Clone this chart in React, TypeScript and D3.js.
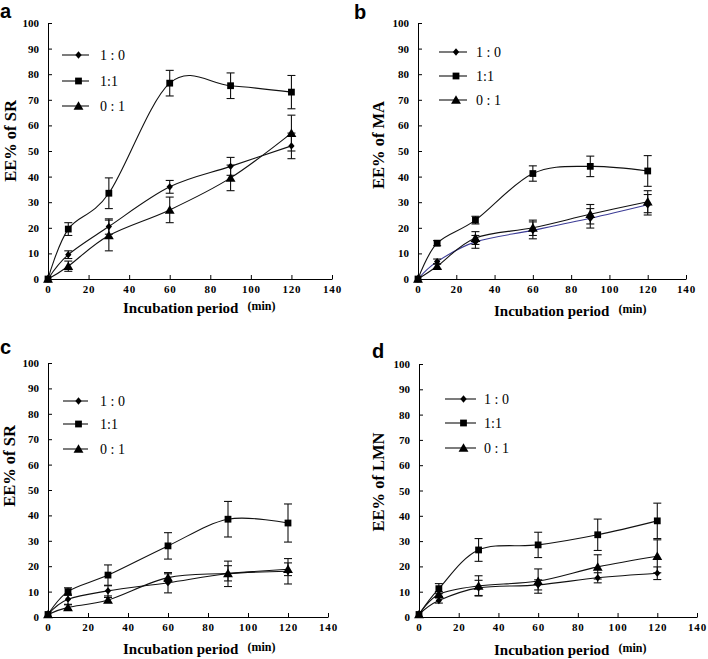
import React, { useEffect, useRef } from "react";
import * as d3 from "d3";

const minutes = [0, 10, 30, 60, 90, 120];
const xTickValues = [0, 20, 40, 60, 80, 100, 120, 140];
const yTickValues = [0, 10, 20, 30, 40, 50, 60, 70, 80, 90, 100];
const ratioLabels = ["1 : 0", "1:1", "0 : 1"];
const panelLetters = ["a", "b", "c", "d"];
const yTitles = ["EE% of SR", "EE% of MA", "EE% of SR", "EE% of LMN"];

// panel a
const a10 = [0, 9.5, 20.5, 36, 44, 52];
const a10Err = [0, 1.5, 3, 2.5, 3.5, 5];
const a11 = [0, 19.5, 33.5, 76.5, 75.5, 73];
const a11Err = [0, 2.5, 6, 5, 5, 6.5];
const a01 = [0, 5, 17, 27, 39.5, 57];
const a01Err = [0, 2, 6, 5, 5, 7];

// panel b
const b10 = [0, 6.8, 14.5, 19, 23.7, 29];
const b10Err = [0, 1, 2.5, 3.3, 3.8, 4];
const b11 = [0, 14, 23, 41.2, 44, 42.2];
const b11Err = [0, 1, 1.5, 3, 4, 6];
const b01 = [0, 5, 16, 20, 25.3, 30.2];
const b01Err = [0, 1, 2.5, 3, 3.8, 4.3];

// panel c
const c10 = [1, 7, 10.3, 13.5, 17, 18];
const c10Err = [0, 2, 2, 4, 5, 5];
const c11 = [1, 10, 16.5, 28, 38.5, 37];
const c11Err = [0, 1.5, 4, 5.2, 7, 7.5];
const c01 = [1, 3.8, 6.7, 15.5, 17.2, 18.8];
const c01Err = [0, 1, 1, 1.5, 3, 2.5];

// panel d
const d10 = [1, 6.5, 11.5, 12.7, 15.5, 17.3];
const d10Err = [0, 1, 3, 2, 2, 2.5];
const d11 = [1, 11.2, 26.5, 28.5, 32.5, 38];
const d11Err = [0, 2, 4.5, 5, 6.2, 7];
const d01 = [1, 9, 12.3, 14.2, 19.8, 24];
const d01Err = [0, 1, 4, 4.8, 4.8, 6.5];

const panelSeries = [
  [[a10, a10Err], [a11, a11Err], [a01, a01Err]],
  [[b10, b10Err], [b11, b11Err], [b01, b01Err]],
  [[c10, c10Err], [c11, c11Err], [c01, c01Err]],
  [[d10, d10Err], [d11, d11Err], [d01, d01Err]],
];

// frame geometry for each panel (pixels)
const frames = [
  { x0: 48, x1: 332, y0: 279, y1: 23, lg: { l0: 14, l1: 41, tx: 52, rows: [32, 58, 83] }, letter: [0, 18], yt: [10, 141], xt: [123, 313] },
  { x0: 418, x1: 686, y0: 279, y1: 23, lg: { l0: 21, l1: 49, tx: 58, rows: [29, 53, 77] }, letter: [354, 19], yt: [378, 145], xt: [494, 316] },
  { x0: 48, x1: 328, y0: 617, y1: 363, lg: { l0: 15, l1: 40, tx: 52, rows: [38, 61, 86] }, letter: [0, 354], yt: [9, 466], xt: [123, 654] },
  { x0: 419, x1: 697, y0: 617, y1: 364, lg: { l0: 26, l1: 57, tx: 65, rows: [35, 59, 84] }, letter: [372, 358], yt: [378, 482], xt: [494, 655] },
];

const serif = "'Liberation Serif', 'Times New Roman', serif";

const diamond = {
  draw(ctx: any, size: number) {
    const w = Math.sqrt(size) / 2;
    const h = w * 1.15;
    ctx.moveTo(0, -h);
    ctx.lineTo(w, 0);
    ctx.lineTo(0, h);
    ctx.lineTo(-w, 0);
    ctx.closePath();
  },
};
const symbolTypes = [diamond, d3.symbolSquare, d3.symbolTriangle];
const symbolSizes = [40, 46, 42];

const App = () => {
  const svgRef = useRef<SVGSVGElement>(null);

  useEffect(() => {
    const svg = d3.select(svgRef.current);
    svg.selectAll("*").remove();

    frames.forEach((f, p) => {
      const x = d3.scaleLinear().domain([0, 140]).range([f.x0, f.x1]);
      const y = d3.scaleLinear().domain([0, 100]).range([f.y0, f.y1]);
      const g = svg.append("g");

      const xAxis = g
        .append("g")
        .attr("transform", `translate(0,${f.y0})`)
        .call(d3.axisBottom(x).tickValues(xTickValues).tickSizeInner(-4).tickSizeOuter(0).tickPadding(6));
      const yAxis = g
        .append("g")
        .attr("transform", `translate(${f.x0},0)`)
        .call(d3.axisLeft(y).tickValues(yTickValues).tickSizeInner(-4).tickSizeOuter(0).tickPadding(9));
      [xAxis, yAxis].forEach((ax) => {
        ax.selectAll("path,line").attr("stroke", "#000");
        ax.selectAll("text")
          .attr("font-family", serif)
          .attr("font-weight", "bold")
          .attr("font-size", 11)
          .attr("fill", "#000");
      });
      xAxis.selectAll("text").attr("letter-spacing", 0.8);

      const line = d3
        .line<number>()
        .x((_, i) => x(minutes[i]))
        .y((v) => y(v))
        .curve(d3.curveCardinal.tension(0));

      panelSeries[p].forEach(([vals], s) => {
        g.append("path")
          .attr("d", line(vals))
          .attr("fill", "none")
          .attr("stroke", p === 1 && s === 0 ? "#3c3c96" : "#111")
          .attr("stroke-width", 1.1);
      });

      panelSeries[p].forEach(([vals, errs]) => {
        const eb = g.append("g").attr("stroke", "#111").attr("stroke-width", 1.1);
        vals.forEach((v, i) => {
          if (!errs[i]) return;
          const cx = x(minutes[i]);
          const top = y(v + errs[i]);
          const bot = y(v - errs[i]);
          eb.append("line").attr("x1", cx).attr("x2", cx).attr("y1", top).attr("y2", bot);
          eb.append("line").attr("x1", cx - 4).attr("x2", cx + 4).attr("y1", top).attr("y2", top);
          eb.append("line").attr("x1", cx - 4).attr("x2", cx + 4).attr("y1", bot).attr("y2", bot);
        });
      });

      panelSeries[p].forEach(([vals], s) => {
        const sym = d3.symbol().type(symbolTypes[s] as any).size(symbolSizes[s]);
        g.selectAll(null)
          .data(vals)
          .enter()
          .append("path")
          .attr("d", sym() as string)
          .attr("transform", (v, i) => `translate(${x(minutes[i])},${y(v) + (s === 2 ? 1 : 0)})`)
          .attr("fill", "#000");
      });

      // legend
      ratioLabels.forEach((lab, s) => {
        const ly = f.y1 + f.lg.rows[s];
        g.append("line")
          .attr("x1", f.x0 + f.lg.l0)
          .attr("x2", f.x0 + f.lg.l1)
          .attr("y1", ly)
          .attr("y2", ly)
          .attr("stroke", "#111")
          .attr("stroke-width", 1.1);
        const sym = d3.symbol().type(symbolTypes[s] as any).size(symbolSizes[s]);
        g.append("path")
          .attr("d", sym() as string)
          .attr("transform", `translate(${f.x0 + (f.lg.l0 + f.lg.l1) / 2 + 3},${ly + (s === 2 ? 1 : 0)})`)
          .attr("fill", "#000");
        g.append("text")
          .attr("x", f.x0 + f.lg.tx)
          .attr("y", ly + 5)
          .attr("font-family", serif)
          .attr("font-size", 14)
          .text(lab);
      });

      g.append("text")
        .attr("x", f.letter[0])
        .attr("y", f.letter[1])
        .attr("font-family", "'Liberation Sans', Arial, sans-serif")
        .attr("font-weight", "bold")
        .attr("font-size", 20)
        .text(panelLetters[p]);

      g.append("text")
        .attr("transform", `translate(${f.yt[0] + 6},${f.yt[1]}) rotate(-90)`)
        .attr("text-anchor", "middle")
        .attr("font-family", serif)
        .attr("font-weight", "bold")
        .attr("font-size", 16.5)
        .text(yTitles[p]);

      const xt = g
        .append("text")
        .attr("x", f.xt[0])
        .attr("y", f.xt[1])
        .attr("font-family", serif)
        .attr("font-weight", "bold")
        .attr("font-size", 15);
      xt.append("tspan").text("Incubation period");
      xt.append("tspan").attr("dx", 9).attr("dy", -3).attr("font-size", 12).text("(min)");
    });
  }, []);

  return (
    <svg
      ref={svgRef}
      width={708}
      height={659}
      style={{ position: "absolute", left: 0, top: 0, background: "#fff" }}
    />
  );
};

export default App;
